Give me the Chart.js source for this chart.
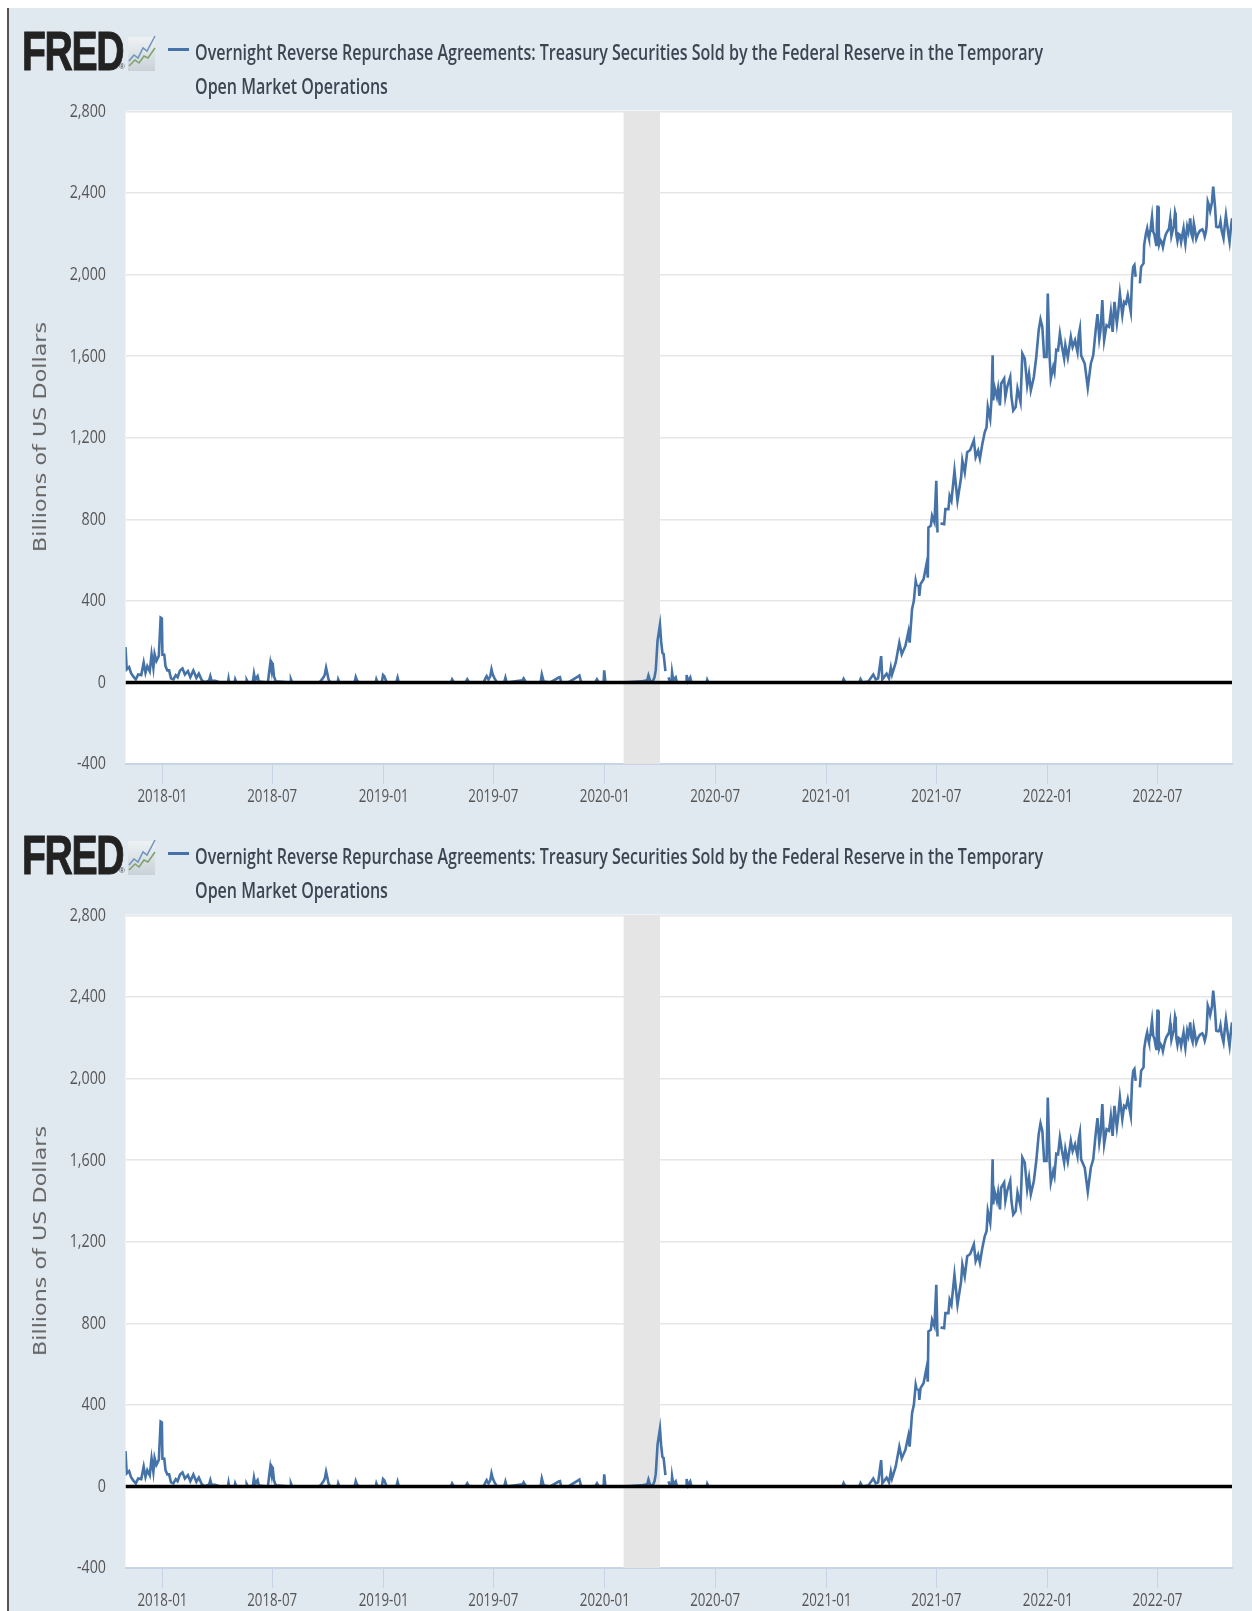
<!DOCTYPE html>
<html><head><meta charset="utf-8">
<script src="https://cdn.jsdelivr.net/npm/chart.js@4/dist/chart.umd.min.js"></script>
<style>
html{background:#fff}
html,body{margin:0;padding:0;width:1252px;height:1611px;overflow:hidden}
body{filter:blur(.45px)}
#panel{position:absolute;left:7px;top:8px;width:1245px;height:1603px;background:#e1e9f0;border-left:2px solid #555;box-sizing:border-box}
canvas{position:absolute;left:0}
.t{position:absolute;white-space:nowrap;transform-origin:0 0}
</style></head><body>
<div id="panel"></div>
<script>
// x positions are days since 2018-01-01
const seriesName = "Overnight Reverse Repurchase Agreements: Treasury Securities Sold by the Federal Reserve in the Temporary";
const seriesNameLine2 = "Open Market Operations";
const yAxisTitle = "Billions of US Dollars";
const tickDays = [0,181,365,546,730,912,1096,1277,1461,1642];
const tickLabels = ["2018-01","2018-07","2019-01","2019-07","2020-01","2020-07","2021-01","2021-07","2022-01","2022-07"];
const xMin = -61, xMax = 1765;
const yMin = -400, yMax = 2800, yStep = 400;
const recessionStart = [761], recessionEnd = [821];

const daysA = [-61,-59,-55,-52,-48,-44,-40,-35,-31,-28,-25,-21,-18,-15,-13,-10,-6,-3,-1,0,1,2,3,5,8,11,14,18,22,25,29,33,37,42,46,51,56,60,65,70,77,79,81,87,95,108,109,110,119,120,122,138,139,141,149,151,153,155,157,159,174,176,178,180,181,182,184,187,211,212,214,259,262,266,268,270,272,274,277,289,290,292,317,319,321,324,352,353,355];
const valsA = [174,64,75,47,28,15,39,36,97,47,80,55,137,72,140,105,130,318,314,130,null,140,137,80,59,59,20,15,36,26,59,69,39,55,26,59,23,43,10,0,10,31,8,8,0,0,18,0,0,15,0,0,12,0,0,43,10,23,31,5,0,50,95,60,95,90,30,5,0,15,0,0,10,26,40,72,45,15,0,0,15,0,0,26,10,0,0,15,0];

const daysB = [362,364,366,370,386,388,390,420,476,478,481,500,503,506,530,533,535,538,541,543,545,548,552,564,566,568,594,596,600,624,626,629,640,654,656,658,670,686,688,691,714,717,720,728,729,730,731,760,790,800,802,805,809,812,814,815,817,821,823,825,827,830,831,835,838,840,841,843,847,849,864,865,867,871,873,898,899,901,1000,1122,1124,1127,1150,1152,1155];
const valsB = [0,36,30,0,0,23,0,0,0,15,0,0,15,0,0,20,31,15,30,64,40,20,0,0,23,0,10,20,0,0,39,5,0,24,26,0,0,30,34,0,0,15,0,0,59,59,0,0,5,10,34,5,5,25,60,106,205,283,200,145,140,55,null,25,0,0,49,10,25,0,0,36,5,25,0,0,13,0,0,0,16,0,0,16,0];

const daysC = [1165,1173,1177,1181,1186,1187,1188,1195,1199,1202,1204,1210,1216,1220,1226,1231,1233,1237,1240,1243,1245,1246,1248,1249,1251,1256,1261,1263,1264,1268,1270,1274,1277,1279,1281,1284,1290,1292,1297,1299,1302,1307,1312,1318,1320,1324,1328,1333];
const valsC = [5,39,15,20,129,129,15,43,20,72,39,97,195,138,179,249,195,359,400,498,470,null,480,424,482,506,583,514,760,768,817,785,989,735,null,780,776,850,850,915,891,1038,891,1006,1088,1030,1129,1140];

const daysD = [1339,1342,1346,1349,1353,1357,1360,1362,1366,1368,1370,1371,1373,1377,1379,1382,1384,1389,1391,1394,1399,1401,1404,1408,1411,1416,1419,1423,1427,1430,1433,1438,1442,1446,1449,1452,1455,1459,1461,1464,1466,1470,1472,1475,1478,1481,1484,1488,1490,1494,1499,1502,1506,1510,1512,1514,1516,1522,1527,1532,1536];
const valsD = [1187,1105,1137,1097,1170,1228,1252,1351,1293,1383,1604,1383,1449,1400,1441,1359,1465,1490,1400,1449,1498,1400,1334,1351,1441,1375,1613,1588,1457,1514,1432,1498,1596,1727,1780,1744,1596,1596,1907,1596,1490,1547,1522,1632,1629,1711,1654,1588,1654,1593,1695,1645,1678,1621,1703,1735,1604,1563,1446,1563,1604];

const daysE = [1540,1543,1546,1548,1551,1554,1558,1562,1565,1568,1571,1575,1577,1580,1584,1587,1590,1593,1598,1600,1602,1604,1606,1608,1613,1615,1619,1620,1623];
const valsE = [1727,1806,1686,1727,1875,1678,1752,1744,1817,1719,1866,1760,1809,1907,1801,1866,1858,1899,1817,1981,2038,2047,1989,null,1957,2038,2055,2145,2202];

const daysF = [1625,1627,1628,1630,1631,1633,1634,1635,1637,1639,1640,1641,1642,1643,1644,1645,1647,1649,1651,1653,1655,1657,1659,1661,1663,1664,1665,1667,1669,1671,1672,1673,1675,1677,1679,1681,1683,1685,1687,1688,1690,1691,1693,1695,1696,1698,1700,1702,1703,1706,1709,1712,1716,1718,1720,1722,1723,1725,1727,1729,1731,1732,1734,1735,1737,1739,1741,1743,1745,1746,1748,1751,1753,1755,1757,1759,1761,1763,1765];
const valsF = [2227,2190,2178,2215,2235,2284,2284,2210,2195,2160,2145,2240,2333,2333,2230,2150,2170,2160,2135,2165,2190,2205,2215,2225,2271,2230,2190,2215,2240,2304,2290,2200,2165,2200,2195,2160,2195,2227,2170,2150,2210,2235,2210,2250,2276,2200,2180,2251,2235,2175,2200,2215,2222,2210,2186,2210,2235,2358,2340,2312,2340,2358,2432,2432,2333,2235,2232,2232,2245,2260,2215,2178,2240,2292,2245,2200,2161,2225,2276];

const days = [...daysA,...daysB,...daysC,...daysD,...daysE,...daysF];
const values = [...valsA,...valsB,...valsC,...valsD,...valsE,...valsF];

const OFFSETS = [0,804];
const AREA = {left:125.5, right:1232, top:111.5, bottom:764};

function header(off){
  const add=(txt,css)=>{const e=document.createElement('div');e.className='t';e.textContent=txt;e.style.cssText=css;document.body.appendChild(e);return e;};
  add('FRED',`left:22px;top:${off+18}px;font:700 56px "Liberation Sans";letter-spacing:-2px;color:#222;-webkit-text-stroke:1px #222;transform:scaleX(.7)`);
  add('®',`left:119px;top:${off+62}px;font:400 8px "Liberation Sans";color:#444`);
  const ic=document.createElement('div');
  ic.innerHTML=`<svg width="30" height="40" viewBox="0 0 30 40" style="position:absolute;left:0;top:0"><defs><linearGradient id="g${off}" x1="0" y1="0" x2="0" y2="1"><stop offset="0" stop-color="#eef2f4"/><stop offset="1" stop-color="#c9d2d8"/></linearGradient></defs><rect x="1" y="4" width="27" height="34" fill="url(#g${off})"/><polyline points="2,28 7,22 11,25 16,15 20,18 28,3" fill="none" stroke="#6e93bd" stroke-width="1.5"/><polyline points="2,33 8,27 12,30 17,23 21,25 28,15" fill="none" stroke="#7fa06a" stroke-width="1.5"/></svg>`;
  ic.style.cssText=`position:absolute;left:127px;top:${off+33}px;width:30px;height:40px`;
  document.body.appendChild(ic);
  const dash=document.createElement('div');
  dash.style.cssText=`position:absolute;left:168px;top:${off+48}px;width:21px;height:3px;background:#4572a7`;
  document.body.appendChild(dash);
  const f='600 22px "Open Sans"';
  const l1=add(seriesName,`left:195px;top:${off+36}px;font:${f};color:#3c4653`);
  const l2=add(seriesNameLine2,`left:195px;top:${off+70}px;font:${f};color:#3c4653`);
  const k=848/l1.getBoundingClientRect().width;
  l1.style.transform=l2.style.transform=`scaleX(${k})`;
  add(yAxisTitle,`left:40px;top:${off+437}px;font:400 17px "DejaVu Sans";color:#666;transform-origin:50% 50%;transform:translate(-50%,-50%) rotate(-90deg) scaleX(1.31)`);
}

const squeezedLabels = {
  id:'squeezedLabels',
  afterDraw(c){
    const ctx=c.ctx;
    ctx.save();
    ctx.fillStyle='#555';
    ctx.font='400 19px "Open Sans"';
    ctx.textBaseline='middle';
    for(const t of c.scales.y.ticks){
      const py=c.scales.y.getPixelForValue(t.value);
      ctx.save();ctx.translate(106,py);ctx.scale(.75,1);ctx.textAlign='right';ctx.fillText(t.label,0,0);ctx.restore();
    }
    for(const t of c.scales.x.ticks){
      const px=c.scales.x.getPixelForValue(t.value);
      ctx.save();ctx.translate(px,796.5);ctx.scale(.7,1);ctx.textAlign='center';ctx.fillText(t.label,0,0);ctx.restore();
    }
    ctx.restore();
  }
};
const plotBack = {
  id:'plotBack',
  beforeDraw(c){const a=c.chartArea;c.ctx.save();c.ctx.fillStyle='#fff';c.ctx.fillRect(a.left,a.top-1,a.right-a.left,a.bottom-a.top+1);c.ctx.restore();},
  beforeDatasetsDraw(c){
    const a=c.chartArea,x=c.scales.x;c.ctx.save();c.ctx.fillStyle='#e5e5e5';
    recessionStart.forEach((s,i)=>{const p=x.getPixelForValue(s),q=x.getPixelForValue(recessionEnd[i]);c.ctx.fillRect(p,a.top,q-p,a.bottom-a.top);});
    c.ctx.restore();
  }
};

function build(off){
  const cv=document.createElement('canvas');
  cv.width=1252;cv.height=808;cv.style.top=off+'px';
  document.body.appendChild(cv);
  new Chart(cv,{
    type:'line',
    data:{datasets:[
      {label:'Zero',data:[{x:xMin,y:0},{x:xMax,y:0}],borderColor:'#000',borderWidth:3.5,pointRadius:0,order:0},
      {label:seriesName+' '+seriesNameLine2,data:days.map((d,i)=>({x:d,y:values[i]})),borderColor:'#4572a7',borderWidth:2.6,pointRadius:0,tension:0,spanGaps:false,order:1}
    ]},
    options:{
      responsive:false,animation:false,devicePixelRatio:1,
      layout:{padding:{left:0,right:1252-AREA.right,top:AREA.top,bottom:0}},
      plugins:{legend:{display:false},tooltip:{enabled:false}},
      scales:{
        x:{type:'linear',min:xMin,max:xMax,
          afterBuildTicks:s=>{s.ticks=tickDays.map(v=>({value:v}));},
          afterFit:s=>{s.height=808-AREA.bottom;},
          ticks:{display:false,autoSkip:false,callback:v=>tickLabels[tickDays.indexOf(v)]},
          grid:{drawOnChartArea:false,color:'#c7d4e8',tickLength:20,lineWidth:1},
          border:{color:'#c7d4e8',width:2}
        },
        y:{min:yMin,max:yMax,
          afterFit:s=>{s.width=AREA.left;},
          ticks:{display:false,stepSize:yStep,callback:v=>v.toLocaleString('en-US')},
          grid:{color:'#e6e6e6',lineWidth:1.5,drawTicks:false},
          border:{display:false}
        }
      }
    },
    plugins:[plotBack,squeezedLabels]
  });
}
OFFSETS.forEach(o=>{build(o);header(o);});
</script>
</body></html>
